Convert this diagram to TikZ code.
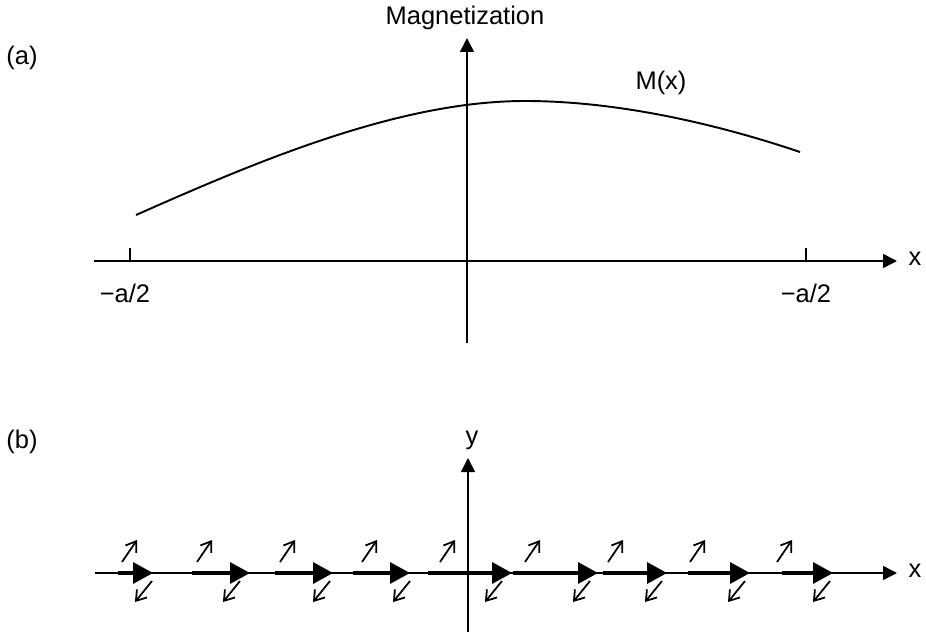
\documentclass[tikz,border=0pt]{standalone}
\usepackage{fontspec}
\setmainfont{Liberation Sans}
\usetikzlibrary{arrows.meta}
\begin{document}
\begin{tikzpicture}[x=0.2mm,y=-0.2mm,
  axis/.style={line width=0.85pt,-{Triangle[length=2.8mm,width=2.8mm]}},
  spin/.style={line width=1.9pt,-{Triangle[length=4mm,width=4.2mm]}},
  tilt/.style={line width=1pt,-{Straight Barb[length=1.9mm,width=2.6mm]}},
  lbl/.style={font=\fontsize{14.5}{17}\selectfont,inner sep=0pt}]
  \useasboundingbox (0,0) rectangle (926,636);
  \node[lbl] (pa) at (22,58) {(a)};
  \draw[axis] (94,261) -- (897,261);
  \node[lbl] (xa) at (915,259) {x};
  \draw[axis] (467,343) -- (467,38);
  \node[lbl] (mag) at (465,18) {Magnetization};
  \draw[line width=0.85pt] (130,261) -- (130,248);
  \draw[line width=0.85pt] (806,261) -- (806,248);
  \node[lbl] (am) at (125,293) {−a/2};
  \node[lbl] (ap) at (806,293) {−a/2};
  \draw[line width=1.1pt] (136,215) .. controls (260,160) and (400,101) .. (525,101)
    .. controls (620,101) and (720,125) .. (800,152);
  \node[lbl] (mx) at (661,83) {M(x)};
  \node[lbl] (pb) at (22,442) {(b)};
  \draw[axis] (95,573) -- (897,573);
  \node[lbl] (xb) at (915,571) {x};
  \draw[axis] (468,632) -- (468,458);
  \node[lbl] (yb) at (472,440) {y};
  \foreach \s/\t in {118/153,192/250,275/333,353/410,428/512,513/598,603/667,688/750,782/833}
    \draw[spin] (\s,573) -- (\t,573);
  \foreach \u in {122,197,280,362,440,525,608,690,777}
    \draw[tilt] (\u,562) -- ++(15,-22);
  \foreach \d in {135,223,313,393,485,573,645,728,813}
    \draw[tilt] (\d+17,581) -- ++(-17,21);
\end{tikzpicture}
\end{document}
